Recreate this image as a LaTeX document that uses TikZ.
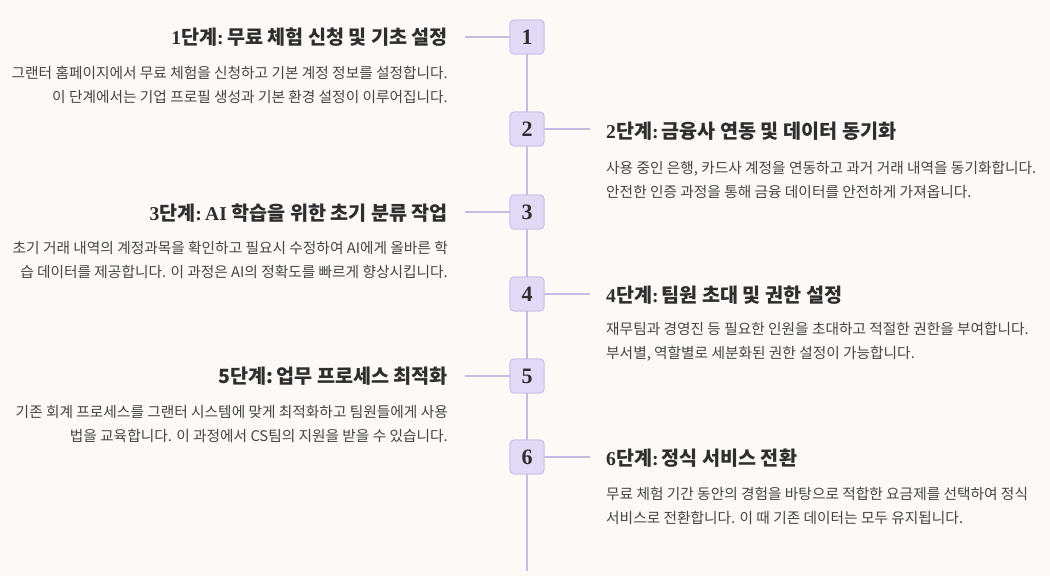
\documentclass[tikz,border=0pt]{standalone}
\usepackage{fontspec}
\setmainfont{Noto Sans CJK KR}
\newfontfamily\numfont{Liberation Serif}
\definecolor{bgc}{HTML}{FDF9F7}
\definecolor{boxfill}{HTML}{E1D9F5}
\definecolor{boxline}{HTML}{C9BEE8}
\definecolor{linec}{HTML}{C5BCE0}
\definecolor{titlec}{HTML}{2E2E2E}
\definecolor{bodyc}{HTML}{454545}
\tikzset{
  numbox/.style={draw=boxline, fill=boxfill, line width=0.8pt, rounded corners=4pt,
    minimum width=34pt, minimum height=34pt, inner sep=0pt,
    font=\numfont\bfseries\fontsize{22}{22}\selectfont, text=titlec},
  conn/.style={draw=linec, line width=1.6pt},
  ltitle/.style={anchor=east, inner sep=0pt, font=\bfseries\fontsize{19.6}{22}\selectfont, text=titlec},
  rtitle/.style={anchor=west, inner sep=0pt, font=\bfseries\fontsize{19.6}{22}\selectfont, text=titlec},
  lbody/.style={anchor=east, inner sep=0pt, align=right, font=\fontsize{14.7}{24.5}\selectfont, text=bodyc},
  rbody/.style={anchor=west, inner sep=0pt, align=left, font=\fontsize{14.7}{24.5}\selectfont, text=bodyc},
}
\newcommand{\nf}[1]{{\numfont #1}}
\begin{document}
\begin{tikzpicture}[x=1pt,y=-1pt]
\fill[bgc] (0,0) rectangle (1050,576);
\useasboundingbox (0,0) rectangle (1050,576);
% boxes
\node[numbox] (b1) at (527,37) {1};
\node[numbox] (b2) at (527,129) {2};
\node[numbox] (b3) at (527,212) {3};
\node[numbox] (b4) at (527,294) {4};
\node[numbox] (b5) at (527,376) {5};
\node[numbox] (b6) at (527,457) {6};
\coordinate (end) at (527,571);
\coordinate (c1) at (465,37);
\coordinate (c2) at (590,129);
\coordinate (c3) at (465,212);
\coordinate (c4) at (590,294);
\coordinate (c5) at (465,376);
\coordinate (c6) at (590,457);
% connectors (drawn, then boxes redrawn on top)
\path[conn] (b1) -- (b2) -- (b3) -- (b4) -- (b5) -- (b6) -- (end);
\path[conn] (c1) -- (b1.west);
\path[conn] (c3) -- (b3.west);
\path[conn] (c5) -- (b5.west);
\path[conn] (b2.east) -- (c2);
\path[conn] (b4.east) -- (c4);
\path[conn] (b6.east) -- (c6);
\node[numbox] at (b1) {1};
\node[numbox] at (b2) {2};
\node[numbox] at (b3) {3};
\node[numbox] at (b4) {4};
\node[numbox] at (b5) {5};
\node[numbox] at (b6) {6};
% step 1
\node[ltitle] (t1) at (448,37) {\nf{1}단계\nf{:}\,무료 체험 신청 및 기초 설정};
\node[lbody] (d1) at (448,85) {그랜터 홈페이지에서 무료 체험을 신청하고 기본 계정 정보를 설정합니다.\\이 단계에서는 기업 프로필 생성과 기본 환경 설정이 이루어집니다.};
% step 2
\node[rtitle] (t2) at (606,131) {\nf{2}단계\nf{:}\,금융사 연동 및 데이터 동기화};
\node[rbody] (d2) at (606,180) {사용 중인 은행, 카드사 계정을 연동하고 과거 거래 내역을 동기화합니다.\\안전한 인증 과정을 통해 금융 데이터를 안전하게 가져옵니다.};
% step 3
\node[ltitle] (t3) at (448,213) {\nf{3}단계\nf{:}\,\nf{AI} 학습을 위한 초기 분류 작업};
\node[lbody] (d3) at (448,260) {초기 거래 내역의 계정과목을 확인하고 필요시 수정하여 AI에게 올바른 학\\습 데이터를 제공합니다. 이 과정은 AI의 정확도를 빠르게 향상시킵니다.};
% step 4
\node[rtitle] (t4) at (606,295) {\nf{4}단계\nf{:}\,팀원 초대 및 권한 설정};
\node[rbody] (d4) at (606,342) {재무팀과 경영진 등 필요한 인원을 초대하고 적절한 권한을 부여합니다.\\부서별, 역할별로 세분화된 권한 설정이 가능합니다.};
% step 5
\node[ltitle] (t5) at (448,376) {5단계:\,업무 프로세스 최적화};
\node[lbody] (d5) at (448,424) {기존 회계 프로세스를 그랜터 시스템에 맞게 최적화하고 팀원들에게 사용\\법을 교육합니다. 이 과정에서 CS팀의 지원을 받을 수 있습니다.};
% step 6
\node[rtitle] (t6) at (606,458) {\nf{6}단계\nf{:}\,정식 서비스 전환};
\node[rbody] (d6) at (606,506) {무료 체험 기간 동안의 경험을 바탕으로 적합한 요금제를 선택하여 정식\\서비스로 전환합니다. 이 때 기존 데이터는 모두 유지됩니다.};
\end{tikzpicture}
\end{document}
